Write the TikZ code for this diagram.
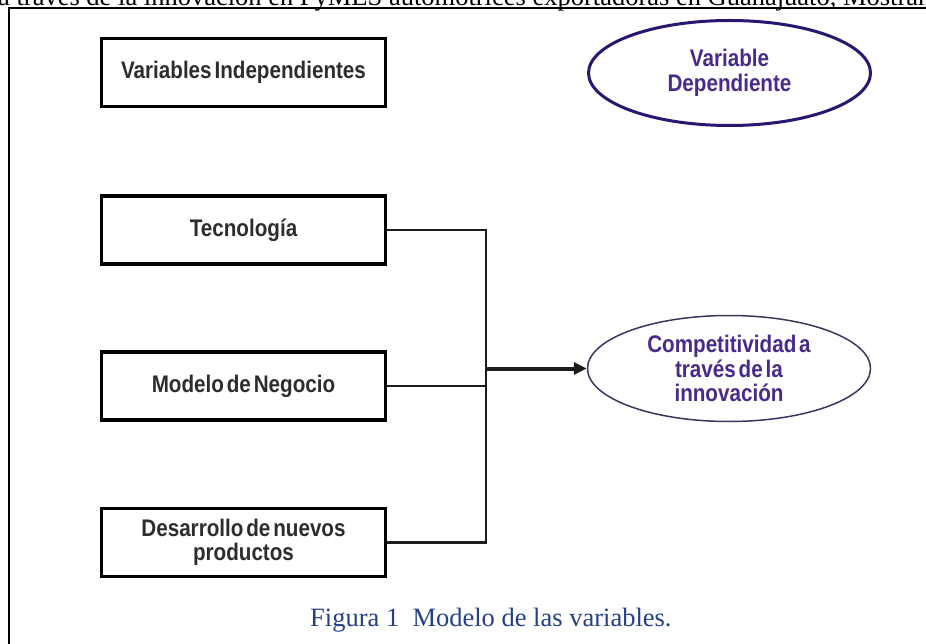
\documentclass[tikz,border=0pt]{standalone}
\usepackage{fontspec}
\setmainfont{Liberation Serif}
\setsansfont{Liberation Sans}[FakeStretch=0.86,WordSpace=0.5]
\usetikzlibrary{shapes.geometric,arrows.meta}
\definecolor{boxtxt}{RGB}{45,45,45}
\definecolor{purtxt}{RGB}{72,42,140}
\definecolor{vdline}{RGB}{42,22,112}
\definecolor{compline}{RGB}{62,52,92}
\definecolor{captxt}{RGB}{36,64,135}
\definecolor{connc}{RGB}{28,28,28}
\begin{document}
\begin{tikzpicture}[x=1pt,y=-1pt,
  varbox/.style={draw=black,line width=3.5pt,rectangle,inner sep=0pt,
    minimum width=284pt,minimum height=68pt,align=center,text=boxtxt,
    font=\sffamily\bfseries\fontsize{24}{24.5}\selectfont},
  varell/.style={ellipse,inner sep=0pt,align=center,text=purtxt,
    font=\sffamily\bfseries\fontsize{24}{24.5}\selectfont},
  conn/.style={draw=connc,line width=2.6pt},
  arrowline/.style={draw=connc,line width=4pt,-{Triangle[length=13pt,width=12pt]}}]
\useasboundingbox (0,0) rectangle (926,644);
\fill[white] (0,0) rectangle (926,644);
% cropped heading text and frame
\node[anchor=base west,inner sep=0pt,font=\fontsize{26.5}{30}\selectfont] (head) at (-2,5.5)
  {a través de la innovación en PyMES automotrices exportadoras en Guanajuato, Mostrando};
\draw[line width=2pt] (9,660) -- (9,8) -- (940,8);
% boxes
\node[varbox] (vi) at (243.5,72.5) {Variables Independientes};
\node[varbox] (tec) at (243.5,230) {Tecnología};
\node[varbox] (mod) at (243.5,386) {Modelo de Negocio};
\node[varbox] (des) at (243.5,542.5) {Desarrollo de nuevos\\productos};
% ellipses
\node[varell,draw=vdline,line width=3pt,minimum width=282pt,minimum height=105pt] (vd) at (729.5,73) {Variable\\Dependiente};
\node[varell,draw=compline,line width=1.5pt,minimum width=283pt,minimum height=106pt] (comp) at (729,368.5) {Competitividad a\\través de la\\innovación};
% connectors
\coordinate (busx) at (486,0);
\coordinate (jn) at (486,368.5);
\draw[conn] (tec.east) -| (busx |- des.east) -- (des.east);
\draw[conn] (mod.east) -- (busx |- mod.east);
\draw[arrowline] (jn) -- (comp.west);
% caption
\node[anchor=base west,inner sep=0pt,text=captxt,font=\fontsize{26.5}{30}\selectfont] (cap) at (310,626)
  {Figura 1\ \ Modelo de las variables.};
\end{tikzpicture}
\end{document}
